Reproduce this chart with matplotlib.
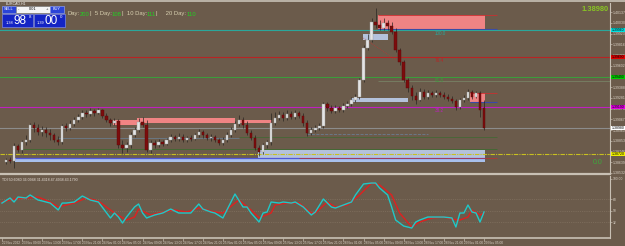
import matplotlib
matplotlib.use("Agg")
import matplotlib.pyplot as plt
from matplotlib.patches import Rectangle

plt.rcParams['font.family'] = ['Liberation Sans', 'DejaVu Sans']

# EURCAD H1 candles (bar index 0..119)
opens = [1.3864,1.3866,1.3865,1.3880,1.3876,1.3884,1.3886,1.3901,1.3898,1.3894,
         1.3896,1.3893,1.3891,1.3886,1.3884,1.3900,1.3898,1.3902,1.3906,1.3909,
         1.3913,1.3912,1.3915,1.3913,1.3916,1.3910,1.3906,1.3903,1.3905,1.3881,
         1.3878,1.3881,1.3891,1.3896,1.3904,1.3901,1.3876,1.3883,1.3881,1.3884,
         1.3882,1.3886,1.3889,1.3887,1.3889,1.3886,1.3888,1.3887,1.3891,1.3894,
         1.3891,1.3888,1.3889,1.3886,1.3883,1.3886,1.3891,1.3896,1.3902,1.3906,
         1.3901,1.3893,1.3888,1.3878,1.3874,1.3881,1.3884,1.3903,1.3908,1.3911,
         1.3908,1.3912,1.3909,1.3913,1.3910,1.3903,1.3893,1.3896,1.3898,1.3900,
         1.3922,1.3918,1.3915,1.3918,1.3916,1.3920,1.3922,1.3926,1.3929,1.3946,
         1.3978,1.3986,1.4004,1.4001,1.3998,1.4003,1.4000,1.3994,1.3976,1.3964,
         1.3946,1.3938,1.3930,1.3926,1.3934,1.3929,1.3933,1.3931,1.3933,1.3931,
         1.3929,1.3927,1.3925,1.3919,1.3926,1.3928,1.3934,1.3929,1.3933,1.3918]
highs = [1.3868,1.3869,1.3883,1.3882,1.3886,1.3891,1.3903,1.3904,1.3902,1.3900,
         1.3899,1.3897,1.3893,1.3890,1.3902,1.3903,1.3906,1.3909,1.3912,1.3916,
         1.3916,1.3918,1.3917,1.3918,1.3917,1.3913,1.3908,1.3908,1.3907,1.3886,
         1.3884,1.3894,1.3899,1.3908,1.3909,1.3906,1.3886,1.3886,1.3887,1.3886,
         1.3888,1.3892,1.3891,1.3893,1.3892,1.3890,1.3891,1.3893,1.3897,1.3896,
         1.3893,1.3892,1.3891,1.3888,1.3889,1.3894,1.3899,1.3905,1.3911,1.3909,
         1.3905,1.3896,1.3891,1.3881,1.3883,1.3886,1.3913,1.3914,1.3915,1.3914,
         1.3916,1.3915,1.3916,1.3915,1.3913,1.3906,1.3899,1.3901,1.3903,1.3924,
         1.3924,1.3921,1.3921,1.3920,1.3923,1.3925,1.3929,1.3932,1.3948,1.3981,
         1.3992,1.4008,1.4018,1.4006,1.4008,1.4006,1.4004,1.3998,1.3978,1.3966,
         1.3948,1.3941,1.3934,1.3938,1.3937,1.3936,1.3935,1.3936,1.3935,1.3934,
         1.3932,1.3930,1.3927,1.3928,1.3931,1.3937,1.3936,1.3935,1.3935,1.3926]
lows = [1.3862,1.3863,1.3858,1.3874,1.3873,1.3881,1.3884,1.3894,1.3891,1.3890,
        1.3889,1.3886,1.3884,1.3881,1.3882,1.3895,1.3896,1.3900,1.3904,1.3907,
        1.3909,1.3910,1.3910,1.3912,1.3908,1.3904,1.3900,1.3901,1.3878,1.3873,
        1.3874,1.3878,1.3889,1.3894,1.3899,1.3874,1.3873,1.3878,1.3879,1.3880,
        1.3881,1.3884,1.3885,1.3885,1.3884,1.3884,1.3885,1.3886,1.3889,1.3888,
        1.3886,1.3885,1.3884,1.3881,1.3881,1.3884,1.3889,1.3894,1.3900,1.3898,
        1.3891,1.3886,1.3876,1.3870,1.3872,1.3878,1.3881,1.3901,1.3906,1.3905,
        1.3906,1.3907,1.3907,1.3908,1.3900,1.3890,1.3891,1.3894,1.3896,1.3898,
        1.3915,1.3913,1.3913,1.3914,1.3914,1.3918,1.3920,1.3924,1.3927,1.3944,
        1.3976,1.3984,1.3998,1.3996,1.3996,1.3996,1.3992,1.3974,1.3961,1.3944,
        1.3934,1.3926,1.3922,1.3925,1.3927,1.3927,1.3929,1.3929,1.3929,1.3927,
        1.3925,1.3923,1.3916,1.3917,1.3924,1.3926,1.3927,1.3928,1.3909,1.3896]
closes = [1.3866,1.3865,1.3880,1.3876,1.3884,1.3886,1.3901,1.3898,1.3894,1.3896,
          1.3893,1.3891,1.3886,1.3884,1.3900,1.3898,1.3902,1.3906,1.3909,1.3913,
          1.3912,1.3915,1.3913,1.3916,1.3910,1.3906,1.3903,1.3905,1.3881,1.3878,
          1.3881,1.3891,1.3896,1.3904,1.3901,1.3876,1.3883,1.3881,1.3884,1.3882,
          1.3886,1.3889,1.3887,1.3889,1.3886,1.3888,1.3887,1.3891,1.3894,1.3891,
          1.3888,1.3889,1.3886,1.3883,1.3886,1.3891,1.3896,1.3902,1.3906,1.3901,
          1.3893,1.3888,1.3878,1.3874,1.3881,1.3884,1.3903,1.3908,1.3911,1.3908,
          1.3912,1.3909,1.3913,1.3910,1.3903,1.3893,1.3896,1.3898,1.3900,1.3922,
          1.3918,1.3915,1.3918,1.3916,1.3920,1.3922,1.3926,1.3929,1.3946,1.3978,
          1.3986,1.4004,1.4001,1.3998,1.4003,1.4000,1.3994,1.3976,1.3964,1.3946,
          1.3938,1.3930,1.3926,1.3934,1.3929,1.3933,1.3931,1.3933,1.3931,1.3929,
          1.3927,1.3925,1.3919,1.3926,1.3928,1.3934,1.3929,1.3933,1.3916,1.3898]

# TDI oscillator (bar index, value)
tdi_fast_bars = [-1,1,2,3,5,6,8,9,11,13,14,15,17,19,21,23,26,27,28,29,30,32,33,34,35,37,39,41,43,46,
                 48,49,51,52,54,55,57,59,60,61,63,64,65,66,68,69,71,72,74,76,77,79,81,82,84,86,87,89,91,92,
                 93,95,96,97,99,101,102,103,105,106,109,111,112,113,114,115,116,117,118,119]
tdi_fast = [61.7,69.6,63.3,71.1,69.6,74.3,66.4,64.9,61.7,50.8,61.7,61.7,63.3,72.7,66.4,63.3,38.3,46.1,39.8,30.4,
            39.8,55.5,60.2,46.1,38.3,43.0,46.1,52.3,46.1,46.1,60.2,52.3,47.7,46.1,38.3,50.8,75.8,55.5,55.5,46.1,
            32.0,46.1,47.7,63.3,61.7,63.3,61.7,63.3,55.5,43.0,47.7,68.0,55.5,53.9,58.6,63.3,74.3,91.5,93.0,93.0,
            85.2,74.3,55.5,35.1,25.7,22.6,32.0,35.1,39.8,39.8,39.8,38.3,24.2,46.1,46.1,58.6,47.7,46.1,32.0,47.7]
tdi_slow_bars = [-1,2,5,8,11,13,17,20,23,27,30,32,33,36,38,42,45,48,52,54,57,58,61,63,66,67,70,73,76,77,
                 80,82,85,88,91,93,96,98,101,103,106,109,111,113,115,116,118,119]
tdi_slow = [63.3,68.0,69.6,71.1,63.3,55.5,61.7,69.6,64.9,46.1,35.1,39.8,52.3,43.0,46.1,50.8,47.7,53.9,47.7,46.1,
            61.7,66.4,50.8,38.3,46.1,58.6,61.7,61.7,46.1,46.1,63.3,55.5,58.6,74.3,93.0,90.0,74.3,46.1,24.2,32.0,
            38.3,39.8,36.7,35.1,39.8,50.8,43.0,46.1]
tdi_levels = [68, 50, 32]

# horizontal levels: price, colour, label
levels = [(1.3996, "#2aa89c", "100.0"), (1.3969, "#b82424", "76.4"), (1.3949, "#3c9c3c", "61.8"),
          (1.3919, "#c020c0", "38.2"), (1.3898, "#8c8c8c", ""), (1.3872, "#c8c020", "")]
box_colors = ["#00e0e0", "#e00000", "#00d000", "#e000e0", "#ffffff", "#f0f000"]
# zones: bar start, bar end, low, high
supply_zones = [(26.6, 32.6, 1.3901, 1.3906), (32.6, 57.0, 1.3903, 1.3908), (57.8, 66.2, 1.3903, 1.3906),
                (92.6, 119.2, 1.3997, 1.4011), (115.5, 119.2, 1.3924, 1.3933)]
demand_zones = [(88.9, 95.1, 1.3986, 1.3992), (85.9, 100.1, 1.3924, 1.3928), (62.7, 119.2, 1.3868, 1.3876)]
base_band = (2.2, 119.2, 1.3864, 1.3868)

price_ticks = [1.38532,1.38639,1.38746,1.38853,1.38960,1.39067,1.39174,1.39281,1.39388,
               1.39495,1.39602,1.39709,1.39816,1.39923,1.40030,1.40137]
time_ticks = [-1,4,9,14,19,24,29,34,39,44,49,54,59,64,69,74,79,84,89,94,99,104,109,114,119]
time_labels = ["22 Nov 2022","23 Nov 09:00","23 Nov 13:00","23 Nov 17:00","23 Nov 21:00","24 Nov 01:00",
               "24 Nov 05:00","24 Nov 09:00","24 Nov 13:00","24 Nov 17:00","24 Nov 21:00","25 Nov 01:00",
               "25 Nov 05:00","25 Nov 09:00","25 Nov 13:00","25 Nov 17:00","25 Nov 21:00","28 Nov 01:00",
               "28 Nov 05:00","28 Nov 09:00","28 Nov 13:00","28 Nov 17:00","28 Nov 21:00","29 Nov 01:00",
               "29 Nov 05:00"]

BG = "#6b5b4b"
FG = "#d8d0c4"
EDGE = "#c8c0b4"

fig = plt.figure(figsize=(6.25, 2.46), dpi=100, facecolor=BG)
ax = fig.add_axes([0, 72/246, 610/625, 171/246], facecolor=BG)
ax2 = fig.add_axes([0, 8/246, 610/625, 62/246], facecolor=BG)
xlim = (-1.494, 150.36)

# zones
for x0, x1, lo, hi in supply_zones:
    ax.add_patch(Rectangle((x0, lo), x1 - x0, hi - lo, fc="#f08484", ec="none", zorder=1))
ax.hlines([1.4011, 1.3933], [92.6, 115.5], 122.2, colors="#c83030", lw=0.6, zorder=2)
ax.hlines([1.3997, 1.3924], [92.6, 115.5], 122.2, colors="#3a48a8", lw=0.8, zorder=2)
for x0, x1, lo, hi in demand_zones:
    ax.add_patch(Rectangle((x0, lo), x1 - x0, hi - lo, fc="#b4c2dc", ec="none", zorder=1))
x0, x1, lo, hi = base_band
ax.add_patch(Rectangle((x0, lo), x1 - x0, hi - lo, fc="#a8c0ec", ec="none", zorder=1))
ax.hlines(hi, x0, x1, colors="#5058d8", lw=0.9, zorder=2)
ax.hlines(1.3868, 73, 122.2, colors="#c03030", lw=0.5, zorder=2)

# other lines
ax.hlines(1.3888, 13, 58, colors="#6a7c8c", lw=0.6, zorder=2)
ax.hlines(1.3892, 75, 105, colors="#6a7c90", lw=0.6, ls="--", zorder=2)
ax.hlines(1.3877, 4, 122.2, colors="#3e6a30", lw=0.6, zorder=2)
ax.hlines(1.3889, 58, 122.2, colors="#3e6a30", lw=0.5, zorder=2)
ax.hlines(1.3945, 92.6, xlim[1], colors="#7a8a6a", lw=0.5, zorder=2)
ax.plot([89, 97], [1.3988, 1.3966], color="#c83030", lw=0.5, ls=":", zorder=2)

for (price, col, lab), bcol in zip(levels, box_colors):
    ls = (0, (4, 1, 1, 1)) if col == "#c8c020" else "-"
    ax.axhline(price, color=col, lw=0.8, ls=ls, zorder=2)
    if lab:
        ax.text(106.8, price - 0.00008, lab, color=col, fontsize=3.3, va="top", ha="left", zorder=3)
    ax.text(1.0025, price, f"{price:.5f}", transform=ax.get_yaxis_transform(), fontsize=2.5,
            color="black", va="center", ha="left", clip_on=False, zorder=10,
            bbox=dict(boxstyle="square,pad=0.12", fc=bcol, ec="none"))

# candles
for i in range(len(opens)):
    o, h, l, c = opens[i], highs[i], lows[i], closes[i]
    ax.vlines(i, l, h, colors="#2a2622", lw=0.5, zorder=4)
    bull = c >= o
    body = max(abs(c - o), 0.00004)
    ax.bar(i, body, bottom=min(o, c), width=0.6, color="#e4e4e4" if bull else "#7c0c0c",
           edgecolor="#9a9a9a" if bull else "#5a0808", linewidth=0.3, zorder=5)

ax.set_xlim(*xlim)
ax.set_ylim(1.3852, 1.4023)
ax.yaxis.tick_right()
ax.set_yticks(price_ticks)
ax.set_yticklabels([f"{p:.5f}" for p in price_ticks])
ax.tick_params(axis="y", labelsize=2.5, colors=FG, length=1.5, width=0.4, pad=0.8)
ax.set_xticks([])
for s in ["left", "top"]:
    ax.spines[s].set_visible(False)
for s in ["right", "bottom"]:
    ax.spines[s].set_color(EDGE)
ax.spines["bottom"].set_linewidth(1.6)
ax.spines["right"].set_linewidth(0.8)

ax.text(0.998, 0.985, "1.38980", transform=ax.transAxes, ha="right", va="top",
        fontsize=5.4, color="#88c424", fontweight="bold")
ax.text(0.988, 0.07, "0.0", transform=ax.transAxes, ha="right", va="center",
        fontsize=5.0, color="#3caa3c")

# TDI panel
for lv in tdi_levels:
    ax2.axhline(lv, color="#8a7a68", lw=0.5, ls=":")
ax2.plot(tdi_slow_bars, tdi_slow, color="#e02020", lw=1.0)
ax2.plot(tdi_fast_bars, tdi_fast, color="#20c8c8", lw=1.0)
ax2.set_xlim(*xlim)
ax2.set_ylim(7, 104)
ax2.yaxis.tick_right()
ax2.set_yticks([32, 50, 68, 100])
ax2.set_yticklabels(["32", "50", "68", "100.00"])
ax2.tick_params(axis="y", labelsize=2.4, colors=FG, length=1.5, width=0.4, pad=0.8)
ax2.set_xticks(time_ticks)
ax2.set_xticklabels(time_labels, ha="left")
ax2.tick_params(axis="x", labelsize=2.3, colors=FG, length=2, width=0.4, pad=0.5)
for s in ["left", "top"]:
    ax2.spines[s].set_visible(False)
for s in ["right", "bottom"]:
    ax2.spines[s].set_color(EDGE)
ax2.spines["bottom"].set_linewidth(1.2)
ax2.spines["right"].set_linewidth(0.8)
ax2.text(0.004, 0.97, "TDI 50.6080 36.0948 31.4318 47.4938 43.1790", transform=ax2.transAxes,
         fontsize=2.6, color="#e8e0d8", va="top", ha="left")

# trading panel overlay in pixel coordinates
ov = fig.add_axes([0, 0, 1, 1], facecolor="none")
ov.set_xlim(0, 625)
ov.set_ylim(246, 0)
ov.axis("off")
ov.add_patch(Rectangle((0, 0), 625, 1.6, fc="#b8b0a4", ec="none"))
ov.text(6, 3.2, "EURCAD,H1", fontsize=2.6, color="#f0f0f0", va="center", ha="left")
ov.add_patch(Rectangle((2, 6), 14, 7, fc="#2a44d8", ec="#9cb0ff", lw=0.4))
ov.text(9, 9.5, "SELL", fontsize=2.8, color="white", ha="center", va="center")
ov.add_patch(Rectangle((16, 6), 34, 7, fc="#f4f4f4", ec="#707070", lw=0.4))
ov.text(33, 9.5, "0.01", fontsize=2.8, color="black", ha="center", va="center")
ov.text(19, 9.5, "-", fontsize=3, color="#333333", ha="center", va="center")
ov.text(47, 9.5, "+", fontsize=3, color="#333333", ha="center", va="center")
ov.add_patch(Rectangle((50, 6), 14, 7, fc="#2a44d8", ec="#9cb0ff", lw=0.4))
ov.text(57, 9.5, "BUY", fontsize=2.8, color="white", ha="center", va="center")
for bx, small, big, sup in [(2, "1.38", "98", "8"), (33.5, "1.39", "00", "0")]:
    ov.add_patch(Rectangle((bx, 13.5), 31, 13, fc="#1424c4", ec="#8898ff", lw=0.4))
    ov.text(bx + 3.5, 23.5, small, fontsize=2.8, color="white", ha="left", va="baseline")
    ov.text(bx + 11, 24.5, big, fontsize=8.5, color="white", ha="left", va="baseline")
    ov.text(bx + 26.5, 17.5, sup, fontsize=3.2, color="white", ha="left", va="baseline")

x = 68
for part, col in [("Day:", "#d8d0b0"), ("200", "#22d022"), ("|  5 Day:", "#d8d0b0"), ("108", "#22d022"),
                  ("|  10 Day:", "#d8d0b0"), ("111", "#22d022"), ("|     20 Day:", "#d8d0b0"), ("110", "#22d022")]:
    t = ov.text(x, 14, part, fontsize=4.2, color=col, ha="left", va="center")
    fig.canvas.draw()
    bb = t.get_window_extent()
    x += bb.width * 625 / fig.bbox.width

fig.savefig("out.png", dpi=100, facecolor=BG)
